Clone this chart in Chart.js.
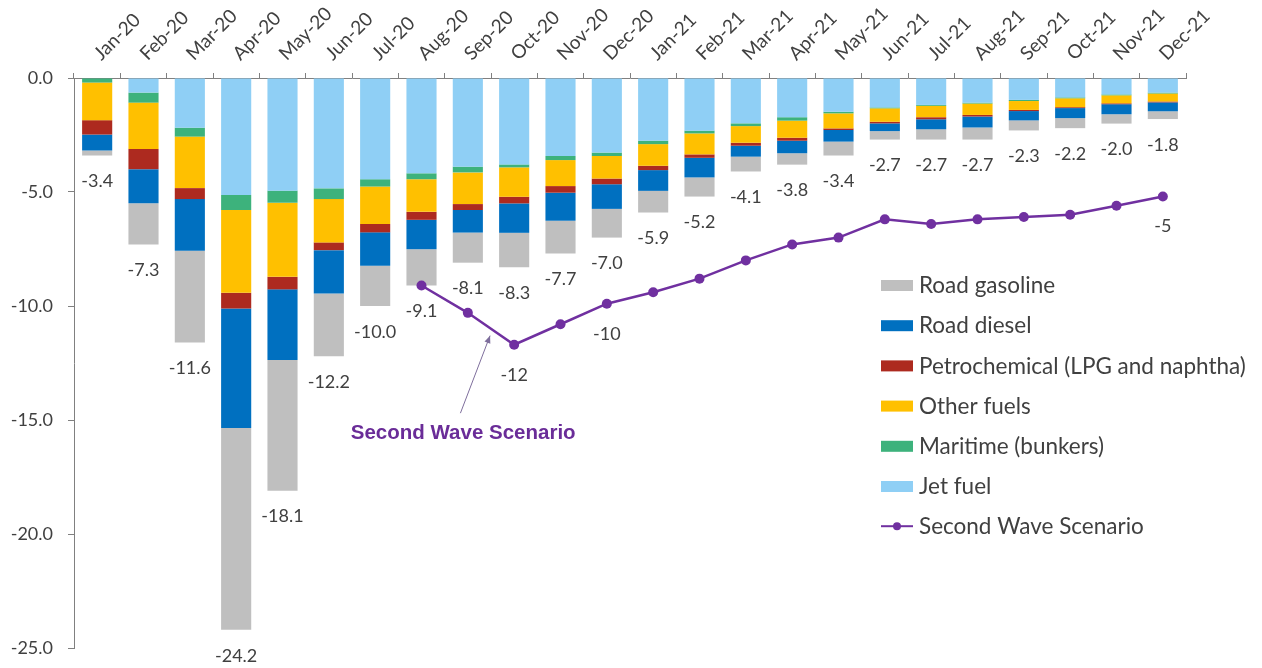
<!DOCTYPE html>
<html>
<head>
<meta charset="utf-8">
<script src="https://cdn.jsdelivr.net/npm/chart.js@4.4.0/dist/chart.umd.min.js"></script>
<style>
  html, body { margin: 0; padding: 0; background: #ffffff; }
  #wrap { width: 1262px; height: 668px; position: relative; }
</style>
</head>
<body>
<div id="wrap"><canvas id="chart" width="1262" height="668"></canvas></div>
<script>
const months = ["Jan-20", "Feb-20", "Mar-20", "Apr-20", "May-20", "Jun-20", "Jul-20", "Aug-20",
    "Sep-20", "Oct-20", "Nov-20", "Dec-20", "Jan-21", "Feb-21", "Mar-21", "Apr-21", "May-21",
    "Jun-21", "Jul-21", "Aug-21", "Sep-21", "Oct-21", "Nov-21", "Dec-21"];

// demand change by product, mb/d (stacked from zero downwards)
const jetFuel = [0, -0.64, -2.18, -5.13, -4.94, -4.84, -4.44, -4.18, -3.89, -3.79, -3.42, -3.27,
    -2.75, -2.31, -1.99, -1.72, -1.48, -1.29, -1.18, -1.08, -0.96, -0.85, -0.72, -0.64];
const maritime = [-0.20, -0.44, -0.39, -0.66, -0.53, -0.47, -0.32, -0.26, -0.25, -0.13, -0.18, -0.15,
    -0.15, -0.12, -0.12, -0.15, -0.07, -0.04, -0.04, -0.04, -0.05, -0.04, -0.04, -0.04];
const otherFuels = [-1.65, -2.03, -2.26, -3.63, -3.25, -1.90, -1.64, -1.43, -1.39, -1.29, -1.14, -0.99,
    -0.95, -0.92, -0.73, -0.75, -0.66, -0.59, -0.50, -0.50, -0.39, -0.39, -0.35, -0.35];
const petrochem = [-0.63, -0.89, -0.48, -0.69, -0.55, -0.34, -0.37, -0.35, -0.26, -0.29, -0.29, -0.25,
    -0.19, -0.15, -0.13, -0.13, -0.07, -0.07, -0.09, -0.07, -0.05, -0.04, -0.04, -0.04];
const roadDiesel = [-0.70, -1.49, -2.27, -5.24, -3.10, -1.90, -1.46, -1.29, -0.99, -1.29, -1.23, -1.08,
    -0.91, -0.86, -0.48, -0.55, -0.51, -0.34, -0.44, -0.48, -0.41, -0.44, -0.44, -0.39];
const roadGasoline = [-0.22, -1.81, -4.02, -8.85, -5.73, -2.75, -1.77, -1.59, -1.32, -1.51, -1.44, -1.26,
    -0.95, -0.84, -0.65, -0.50, -0.61, -0.37, -0.45, -0.53, -0.44, -0.44, -0.41, -0.34];

// second wave scenario, total demand change
const secondWave = [null, null, null, null, null, null, null, -9.1, -10.3, -11.7, -10.8, -9.9,
    -9.4, -8.8, -8.0, -7.3, -7.0, -6.2, -6.4, -6.2, -6.1, -6.0, -5.6, -5.2];
const waveLabelled = ["Oct-20", "Dec-20", "Dec-21"];

const yTicks = [0, -5, -10, -15, -20, -25];

const FONT = "Lato, 'Open Sans', sans-serif";
const TEXT = "#404040";
const PURPLE = "#7030A0";

const barSeries = [
    { label: "Jet fuel", data: jetFuel, color: "#8FCFF5" },
    { label: "Maritime (bunkers)", data: maritime, color: "#3DB27C" },
    { label: "Other fuels", data: otherFuels, color: "#FFC000" },
    { label: "Petrochemical (LPG and naphtha)", data: petrochem, color: "#AD2A1F" },
    { label: "Road diesel", data: roadDiesel, color: "#0070C0" },
    { label: "Road gasoline", data: roadGasoline, color: "#BFBFBF" },
];

let datasets = barSeries.map(s => ({
    type: "bar",
    label: s.label,
    data: s.data,
    backgroundColor: s.color,
    stack: "products",
    categoryPercentage: 1,
    barPercentage: 0.65,
    order: 2,
}));
datasets.push({
    type: "line",
    label: "Second Wave Scenario",
    data: secondWave,
    borderColor: PURPLE,
    backgroundColor: PURPLE,
    borderWidth: 2.5,
    pointRadius: 5,
    pointBackgroundColor: PURPLE,
    pointBorderWidth: 0,
    stack: "wave",
    order: 1,
});

// total under each bar
const totalLabels = {
    id: "totalLabels",
    afterDatasetsDraw(chart) {
        const ctx = chart.ctx, x = chart.scales.x, y = chart.scales.y;
        ctx.save();
        ctx.font = "18px " + FONT;
        ctx.fillStyle = TEXT;
        ctx.textAlign = "center";
        ctx.textBaseline = "middle";
        months.forEach((m, i) => {
            let total = 0;
            barSeries.forEach(s => { total += s.data[i]; });
            ctx.fillText(total.toFixed(1), x.getPixelForValue(i), y.getPixelForValue(total) + 26);
        });
        // a few of the scenario points
        waveLabelled.forEach(m => {
            const i = months.indexOf(m);
            const v = secondWave[i];
            ctx.fillText(v.toFixed(0), x.getPixelForValue(i), y.getPixelForValue(v) + 30);
        });
        ctx.restore();
    }
};

// callout pointing at the scenario line
const scenarioNote = {
    id: "scenarioNote",
    afterDatasetsDraw(chart) {
        const ctx = chart.ctx, x = chart.scales.x, y = chart.scales.y;
        const tx = x.getPixelForValue(8.48), ty = y.getPixelForValue(-11.3);
        const bx = x.getPixelForValue(7.84), by = y.getPixelForValue(-14.7);
        ctx.save();
        ctx.strokeStyle = "#7E6E9C";
        ctx.fillStyle = "#7E6E9C";
        ctx.lineWidth = 1;
        ctx.beginPath();
        ctx.moveTo(bx, by);
        ctx.lineTo(tx, ty);
        ctx.stroke();
        const a = Math.atan2(ty - by, tx - bx);
        ctx.beginPath();
        ctx.moveTo(tx, ty);
        ctx.lineTo(tx - 8 * Math.cos(a - 0.4), ty - 8 * Math.sin(a - 0.4));
        ctx.lineTo(tx - 8 * Math.cos(a + 0.4), ty - 8 * Math.sin(a + 0.4));
        ctx.closePath();
        ctx.fill();
        ctx.font = "bold 20.5px 'Liberation Sans', Arial, sans-serif";
        ctx.fillStyle = "#6A2C98";
        ctx.textAlign = "center";
        ctx.textBaseline = "middle";
        ctx.fillText("Second Wave Scenario", x.getPixelForValue(7.9), y.getPixelForValue(-15.6));
        ctx.restore();
    }
};

// legend inside the plot, bottom series first
const sideLegend = {
    id: "sideLegend",
    afterDraw(chart) {
        const ctx = chart.ctx;
        const left = 881, top = 285, step = 40.2;
        const items = chart.data.datasets.slice(0, barSeries.length).reverse()
            .concat([chart.data.datasets[barSeries.length]]);
        ctx.save();
        ctx.font = "22.5px " + FONT;
        ctx.textBaseline = "middle";
        items.forEach((ds, k) => {
            const cy = top + k * step;
            if (ds.type === "line") {
                ctx.strokeStyle = ds.borderColor;
                ctx.lineWidth = 2;
                ctx.beginPath();
                ctx.moveTo(left, cy);
                ctx.lineTo(left + 32, cy);
                ctx.stroke();
                ctx.fillStyle = ds.borderColor;
                ctx.beginPath();
                ctx.arc(left + 16, cy, 4, 0, Math.PI * 2);
                ctx.fill();
            } else {
                ctx.fillStyle = ds.backgroundColor;
                ctx.fillRect(left, cy - 5, 32, 11);
            }
            ctx.fillStyle = TEXT;
            ctx.fillText(ds.label, left + 38, cy + 1);
        });
        ctx.restore();
    }
};

let chart = new Chart(document.getElementById("chart"), {
    data: { labels: months, datasets: datasets },
    options: {
        responsive: false,
        animation: false,
        layout: { padding: { top: 0, left: 0, right: 76, bottom: 20 } },
        plugins: {
            legend: { display: false },
            tooltip: { enabled: false },
        },
        scales: {
            x: {
                position: "top",
                stacked: true,
                grid: { drawOnChartArea: false, tickLength: 5, color: "#808080", offset: true },
                border: { color: "#808080" },
                ticks: {
                    maxRotation: 45, minRotation: 45, padding: 8, labelOffset: 16,
                    color: TEXT, font: { family: FONT, size: 19 },
                },
                afterFit: s => { s.height = 78; },
            },
            y: {
                stacked: true,
                min: -25, max: 0,
                afterBuildTicks: s => { s.ticks = yTicks.map(v => ({ value: v })); },
                grid: { drawOnChartArea: false, tickLength: 6, color: "#808080" },
                border: { color: "#808080" },
                ticks: {
                    color: TEXT, font: { family: FONT, size: 18 }, padding: 15,
                    callback: v => v.toFixed(1),
                },
                afterFit: s => { s.width = 74; s.paddingTop = 0; s.paddingBottom = 0; },
            },
        },
    },
    plugins: [totalLabels, scenarioNote, sideLegend],
});
</script>
</body>
</html>
